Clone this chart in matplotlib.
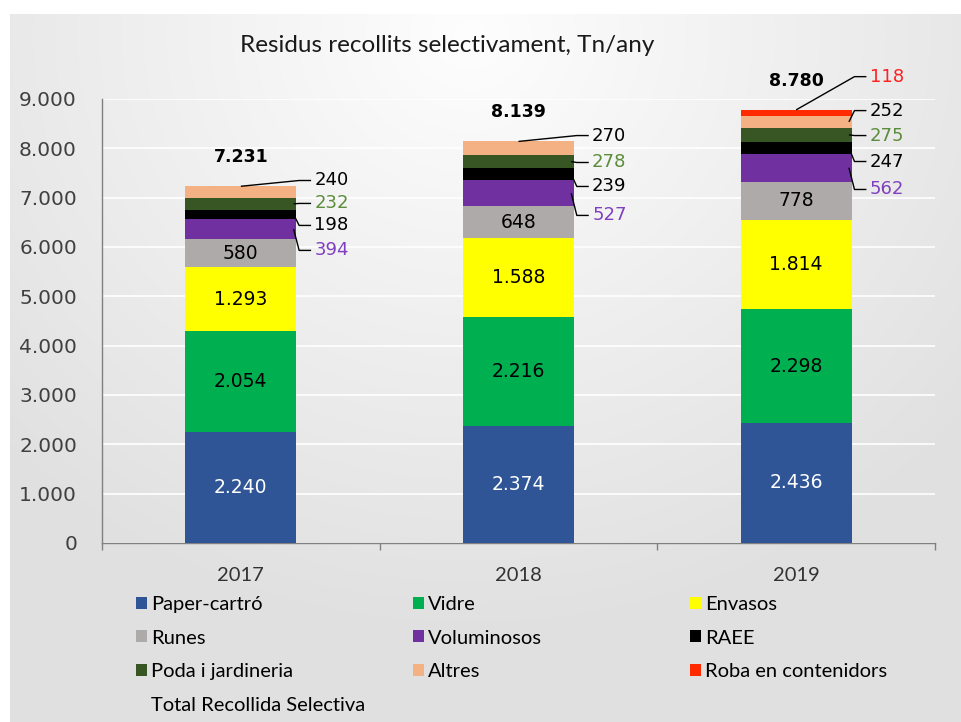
import numpy as np
from matplotlib import pyplot as plt
from matplotlib.patches import Patch
from matplotlib.lines import Line2D
from matplotlib.ticker import FuncFormatter, FixedLocator

years = ["2017", "2018", "2019"]
categories = ["Paper-cartró", "Vidre", "Envasos", "Runes", "Voluminosos",
              "RAEE", "Poda i jardineria", "Altres", "Roba en contenidors"]
paper = [2240, 2374, 2436]
vidre = [2054, 2216, 2298]
envasos = [1293, 1588, 1814]
runes = [580, 648, 778]
voluminosos = [394, 527, 562]
raee = [198, 239, 247]
poda = [232, 278, 275]
altres = [240, 270, 252]
roba = [0, 0, 118]
totals = [7231, 8139, 8780]

series = [paper, vidre, envasos, runes, voluminosos, raee, poda, altres, roba]
colors = ["#2F5597", "#00B050", "#FFFF00", "#AEAAAA", "#7030A0",
          "#000000", "#375623", "#F4B183", "#FF2A00"]
# color of the value labels
label_colors = ["white", "black", "black", "black", "#7F3FBF",
                "black", "#5B8C3A", "black", "#FF2020"]

# layout: y position (value units) of the outside labels, per year
outside_label_y = [
    {4: 5931, 5: 6437, 6: 6883, 7: 7348},
    {4: 6640, 5: 7227, 6: 7713, 7: 8259},
    {4: 7166, 5: 7733, 6: 8259, 7: 8765, 8: 9453},
]


def fmt(v):
    return f"{int(round(v)):,}".replace(",", ".")


num_font = "DejaVu Sans"
txt_font = "Lato"

fig = plt.figure(figsize=(9.62, 7.22), dpi=100, facecolor="white")

# background gradient
bg = fig.add_axes([10 / 962, 0, 1 - 10 / 962, 1 - 14 / 722])
h, w = 708, 952
yy, xx = np.mgrid[0:h, 0:w]
d = np.sqrt(((xx - 460) / 650.0) ** 2 + ((yy - 20) / 600.0) ** 2)
v = 0.995 - 0.115 * np.clip(d, 0, 1)
bg.imshow(np.dstack([v, v, v]), aspect="auto", extent=(0, 1, 0, 1))
bg.set_axis_off()
bg.set_zorder(0)

ax = fig.add_axes([102 / 962, 1 - 543 / 722, 833 / 962, 444 / 722])
ax.set_zorder(1)
ax.set_facecolor("none")

x = np.arange(len(years))
width = 0.4
bottom = np.zeros(len(years))
for k, vals in enumerate(series):
    vals = np.array(vals, dtype=float)
    ax.bar(x, vals, width, bottom=bottom, color=colors[k], edgecolor="none",
           zorder=3, label=categories[k])
    for i in range(len(years)):
        if vals[i] <= 0:
            continue
        if k < 4:
            ax.text(x[i], bottom[i] + vals[i] / 2, fmt(vals[i]), ha="center",
                    va="center", fontsize=13.5, family=num_font,
                    color=label_colors[k], zorder=4)
        else:
            ly = outside_label_y[i][k]
            lx = x[i] + 0.265
            ax.text(lx, ly, fmt(vals[i]), ha="left", va="center",
                    fontsize=13, family=num_font, color=label_colors[k], zorder=4)
            top = bottom[i] + vals[i]
            is_top = abs(top - sum(s[i] for s in series)) < 1e-6
            if is_top:
                sx, sy = x[i], top
            else:
                sx, sy = x[i] + width / 2 - 0.01, bottom[i] + vals[i] / 2
            ax.plot([sx, lx - 0.055, lx - 0.012], [sy, ly, ly],
                    color="black", lw=1, zorder=5, solid_capstyle="butt",
                    clip_on=False)
    bottom += vals

for i, t in enumerate(totals):
    ax.annotate(fmt(t), (x[i], bottom[i]), xytext=(0, 21),
                textcoords="offset points", ha="center", va="center",
                fontsize=12.5, fontweight="bold", family=num_font, zorder=4)

ax.set_xlim(-0.5, 2.5)
ax.set_ylim(0, 9000)
ax.set_yticks(np.arange(0, 9001, 1000))
ax.yaxis.set_major_formatter(FuncFormatter(lambda v, p: fmt(v)))
ax.grid(True, axis="y", color="white", lw=1.2, zorder=1)
ax.set_xticks(x)
ax.set_xticklabels(years, family=txt_font, fontsize=14.5, color="#333333")
ax.xaxis.set_minor_locator(FixedLocator([-0.5, 0.5, 1.5, 2.5]))
ax.tick_params(axis="x", which="major", length=0, pad=17)
ax.tick_params(axis="x", which="minor", length=5, color="#808080", width=1)
ax.tick_params(axis="y", length=0, pad=18, labelsize=14.5, labelcolor="#404040")
for lab in ax.get_yticklabels():
    lab.set_family(num_font)
for s in ["top", "right"]:
    ax.spines[s].set_visible(False)
for s in ["left", "bottom"]:
    ax.spines[s].set_color("#808080")
    ax.spines[s].set_linewidth(1)

fig.text(447 / 962, 1 - 45 / 722, "Residus recollits selectivament, Tn/any",
         ha="center", va="center", fontsize=17.5, family=txt_font, color="#1a1a1a")

# legend in three columns
handles = [Patch(facecolor=c, edgecolor="none", label=n) for c, n in zip(colors, categories)]
handles.append(Line2D([], [], color="none", label="Total Recollida Selectiva"))
cols = [[handles[0], handles[3], handles[6], handles[9]],
        [handles[1], handles[4], handles[7]],
        [handles[2], handles[5], handles[8]]]
col_x = [136 / 962, 413 / 962, 690 / 962]
for cx, hs in zip(col_x, cols):
    fig.legend(handles=hs, loc="upper left", bbox_to_anchor=(cx, 1 - 596 / 722),
               frameon=False, borderpad=0, borderaxespad=0, handlelength=0.55,
               handleheight=0.55, handletextpad=0.2, labelspacing=0.82,
               prop={"family": txt_font, "size": 14.5})

fig.savefig("out.png", dpi=100, facecolor=fig.get_facecolor())
